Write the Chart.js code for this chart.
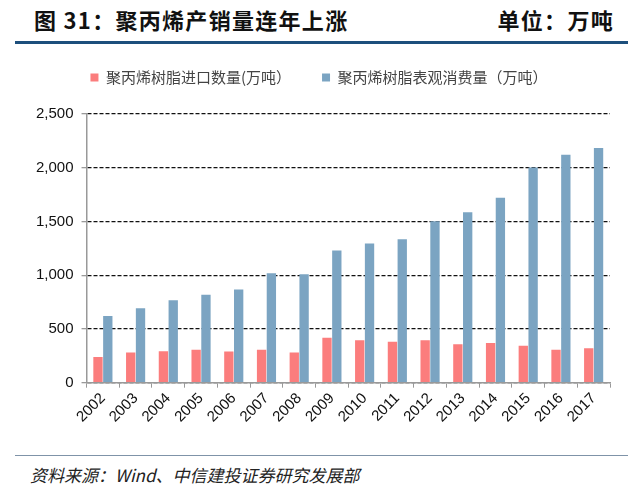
<!DOCTYPE html>
<html>
<head>
<meta charset="utf-8">
<script src="https://cdn.jsdelivr.net/npm/chart.js@4/dist/chart.umd.min.js"></script>
<style>
  html, body { margin: 0; padding: 0; background: #fff; }
  #page { position: relative; width: 640px; height: 496px; overflow: hidden; }
  .title { position: absolute; top: 3px; font-family: "Noto Sans CJK SC", sans-serif; font-weight: bold; font-size: 22px; letter-spacing: 1.3px; color: #111; }
  #topLine { position: absolute; left: 15px; top: 41px; width: 613px; height: 3px; background: #1d4f7c; }
  #bottomLine { position: absolute; left: 15px; top: 455px; width: 613px; height: 1px; background: #7f93a8; }
  #source { position: absolute; left: 30px; top: 462px; font-family: "Noto Sans CJK SC", serif; font-style: italic; font-size: 17px; color: #222; }
  #chartBox { position: absolute; left: 0; top: 39px; width: 640px; height: 389px; }
</style>
</head>
<body>
<div id="page">
  <div class="title" style="left:34px">图 31：聚丙烯产销量连年上涨</div>
  <div class="title" style="right:26px">单位：万吨</div>
  <div id="topLine"></div>
  <div id="chartBox"><canvas id="chart"></canvas></div>
  <div id="bottomLine"></div>
  <div id="source">资料来源：Wind、中信建投证券研究发展部</div>
</div>
<script>
// 年份
const years = ['2002', '2003', '2004', '2005', '2006', '2007', '2008', '2009',
  '2010', '2011', '2012', '2013', '2014', '2015', '2016', '2017'];

// 聚丙烯树脂进口数量（万吨）
const importAmount = [240, 280, 292, 306, 290, 306, 280, 418,
  394, 381, 394, 357, 369, 344, 307, 320];

// 聚丙烯树脂表观消费量（万吨）
const apparentConsumption = [620, 693, 767, 819, 868, 1018, 1009, 1230,
  1294, 1334, 1503, 1586, 1721, 2003, 2120, 2184];

const yTicks = [0, 500, 1000, 1500, 2000, 2500];

const ctx = document.getElementById('chart');

// espaço extra entre a legenda e o gráfico
const legendGap = {
  id: 'legendGap',
  beforeInit(chart) {
    const originalFit = chart.legend.fit;
    chart.legend.fit = function fit() {
      originalFit.bind(chart.legend)();
      this.height += 19;
    };
  },
};

new Chart(ctx, {
  type: 'bar',
  data: {
    labels: years,
    datasets: [
      {
        label: '聚丙烯树脂进口数量(万吨）',
        data: importAmount,
        backgroundColor: '#fb7d7d',
      },
      {
        label: '聚丙烯树脂表观消费量（万吨）',
        data: apparentConsumption,
        backgroundColor: '#7ba4c2',
      },
    ],
  },
  options: {
    responsive: true,
    maintainAspectRatio: false,
    animation: false,
    layout: { padding: { left: 28, right: 30, top: 0, bottom: 0 } },
    datasets: {
      bar: { categoryPercentage: 0.6, barPercentage: 0.95 },
    },
    plugins: {
      tooltip: { enabled: false },
      legend: {
        position: 'top',
        labels: {
          boxWidth: 8,
          boxHeight: 8,
          padding: 31,
          color: '#444',
          font: { family: '"Noto Sans CJK SC", sans-serif', size: 15 },
        },
      },
    },
    scales: {
      x: {
        offset: true,
        grid: {
          offset: true,
          drawOnChartArea: false,
          drawTicks: true,
          tickLength: 5,
          color: '#999',
        },
        border: { color: '#999', width: 1.5 },
        ticks: {
          minRotation: 45,
          maxRotation: 45,
          color: '#111',
          padding: 2,
          font: { family: '"Liberation Sans", Arial, sans-serif', size: 15 },
        },
      },
      y: {
        min: 0,
        max: 2500,
        afterBuildTicks: (axis) => {
          axis.ticks = yTicks.map((v) => ({ value: v }));
        },
        grid: {
          color: '#111',
          tickColor: '#999',
          tickLength: 5,
          lineWidth: 1.3,
        },
        border: { color: '#999', width: 1.5, dash: [4, 2] },
        ticks: {
          color: '#111',
          padding: 8,
          font: { family: '"Liberation Sans", Arial, sans-serif', size: 15 },
          callback: (v) => v.toLocaleString('en-US'),
        },
      },
    },
  },
  plugins: [legendGap],
});
</script>
</body>
</html>
